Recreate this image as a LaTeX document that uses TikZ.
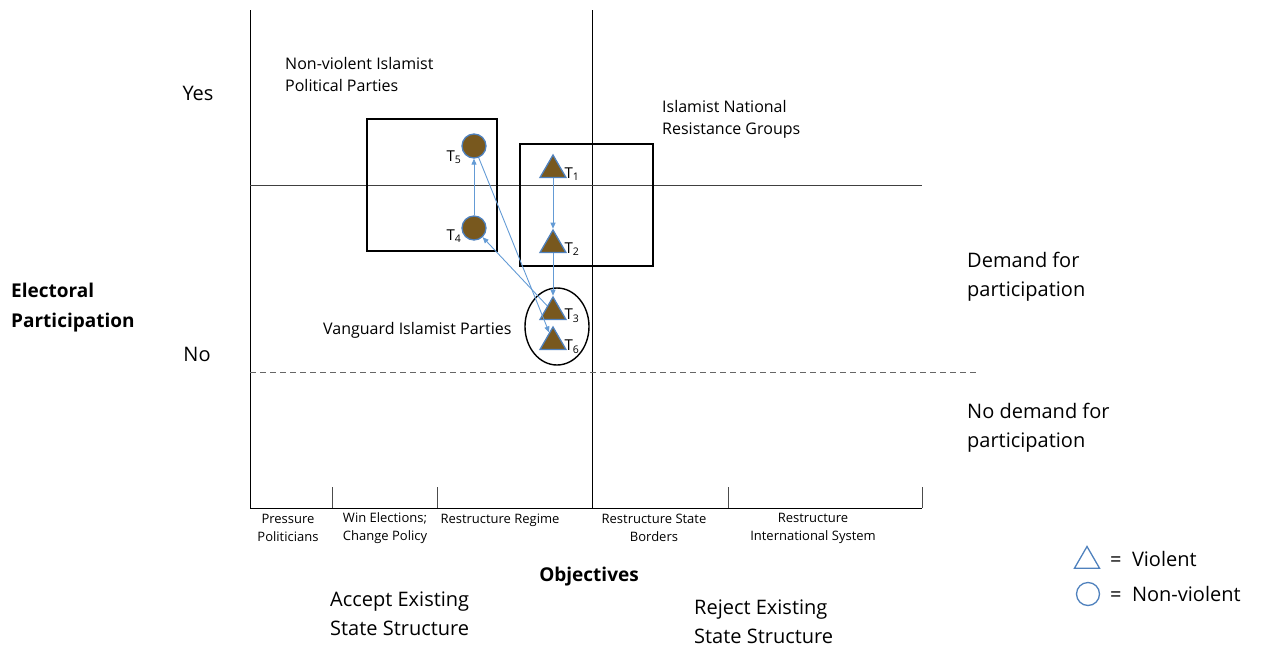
\documentclass[tikz,border=0pt]{standalone}
\usepackage{fontspec}
\setmainfont{Open Sans}
\usetikzlibrary{shapes.geometric,arrows.meta}
\definecolor{brn}{RGB}{120,88,30}
\definecolor{edgeblue}{RGB}{79,129,189}
\definecolor{arrblue}{RGB}{100,155,213}
\begin{document}
\begin{tikzpicture}[x=1pt,y=-1pt,
  big/.style={font=\fontsize{20}{29}\selectfont, inner sep=0pt, align=left},
  bigb/.style={font=\fontsize{19}{30}\selectfont\bfseries, inner sep=0pt, align=left},
  med/.style={font=\fontsize{16}{22}\selectfont, inner sep=0pt, align=left},
  small/.style={font=\fontsize{13}{18}\selectfont, inner sep=0pt, align=center},
  tlab/.style={font=\fontsize{15}{16}\selectfont, inner sep=0pt},
  circ/.style={circle, draw=edgeblue, fill=brn, line width=1.3pt, minimum size=24pt, inner sep=0pt},
  tri/.style={regular polygon, regular polygon sides=3, draw=edgeblue, fill=brn, line width=1.3pt, minimum size=30pt, inner sep=0pt},
  frame/.style={draw=black, line width=1.4pt},
  axis/.style={draw=black, line width=0.8pt},
  conn/.style={draw=arrblue, line width=0.9pt, -{Triangle[length=6pt,width=5pt]}},
  legtri/.style={regular polygon, regular polygon sides=3, draw=edgeblue, line width=1.3pt, minimum size=29pt, inner sep=0pt},
  legcirc/.style={circle, draw=edgeblue, line width=1.3pt, minimum size=23pt, inner sep=0pt}
]
\useasboundingbox (0,0) rectangle (1262,646);
% axes and grid
\coordinate (ytop) at (250,10);
\coordinate (orig) at (250,508);
\coordinate (xend) at (922,508);
\draw[axis] (ytop) -- (orig) -- (xend);
\coordinate (vtop) at (592,10);
\coordinate (vbot) at (592,508);
\draw[axis] (vtop) -- (vbot);
\coordinate (hl) at (250,185);
\coordinate (hr) at (922,185);
\draw[draw=black!75, line width=0.9pt] (hl) -- (hr);
\coordinate (dl) at (250,372);
\coordinate (dr) at (977,372);
\draw[draw=black!60, line width=0.9pt, dash pattern=on 6pt off 4pt] (dl) -- (dr);
% ticks
\foreach \x in {332,437,728,922} {
  \draw[draw=black!70, line width=0.8pt] (\x,487) -- (\x,508);
}
% boxes
\node[frame, minimum width=130pt, minimum height=132pt, inner sep=0pt] (NV) at (432,185) {};
\node[frame, minimum width=133pt, minimum height=122pt, inner sep=0pt] (NR) at (586.5,205) {};
\node[ellipse, draw=black, line width=1.4pt, minimum width=64pt, minimum height=77pt, inner sep=0pt] (VG) at (557,326.5) {};
% group shapes
\node[circ] (T5) at (474,146) {};
\node[circ] (T4) at (474,228) {};
\node[tri] (T1) at (553,170) {};
\node[tri] (T2) at (553,245) {};
\node[tri] (T3) at (553,312) {};
\node[tri] (T6) at (553,342) {};
% labels
\node[tlab] (L5) at (454,157) {T\textsubscript{5}};
\node[tlab] (L4) at (454,236) {T\textsubscript{4}};
\node[tlab] (L1) at (572,174) {T\textsubscript{1}};
\node[tlab] (L2) at (572,249) {T\textsubscript{2}};
\node[tlab] (L3) at (572,316) {T\textsubscript{3}};
\node[tlab] (L6) at (572,347) {T\textsubscript{6}};
% connectors
\draw[conn] (T1) -- (T2);
\draw[conn] (T2) -- (T3);
\draw[conn] (T3) -- (T4);
\draw[conn] (T4) -- (T5);
\draw[conn] (T5) -- (T6);
% texts
\node[big] (yes) at (198,93) {Yes};
\node[big] (no) at (197,354) {No};
\node[bigb, anchor=west] (ep) at (11,308) {Electoral\\Participation};
\node[med, anchor=west] (nvt) at (285,74) {Non-violent Islamist\\Political Parties};
\node[med, anchor=west] (nrt) at (662,119) {Islamist National\\Resistance Groups};
\node[med, anchor=west] (vgt) at (323,330) {Vanguard Islamist Parties};
\node[big, anchor=west] (dem) at (967,277) {Demand for\\participation};
\node[big, anchor=west] (ndem) at (967,428) {No demand for\\participation};
\node[small] (c1) at (288,528) {Pressure\\Politicians};
\node[small] (c2) at (385,528) {Win Elections;\\Change Policy};
\node[small] (c3) at (500,520) {Restructure Regime};
\node[small] (c4) at (654,528) {Restructure State\\Borders};
\node[small] (c5) at (813,528) {Restructure\\International System};
\node[bigb] (obj) at (589,577) {Objectives};
\node[big, anchor=west] (acc) at (330,614) {Accept Existing\\State Structure};
\node[big, anchor=west] (rej) at (694,622) {Reject Existing\\State Structure};
% legend
\node[legtri] (LT) at (1087,561) {};
\node[legcirc] (LC) at (1088,594) {};
\node[big, anchor=west] (LTt) at (1110,559) {=\ \ Violent};
\node[big, anchor=west] (LCt) at (1110,594) {=\ \ Non-violent};
\end{tikzpicture}
\end{document}
